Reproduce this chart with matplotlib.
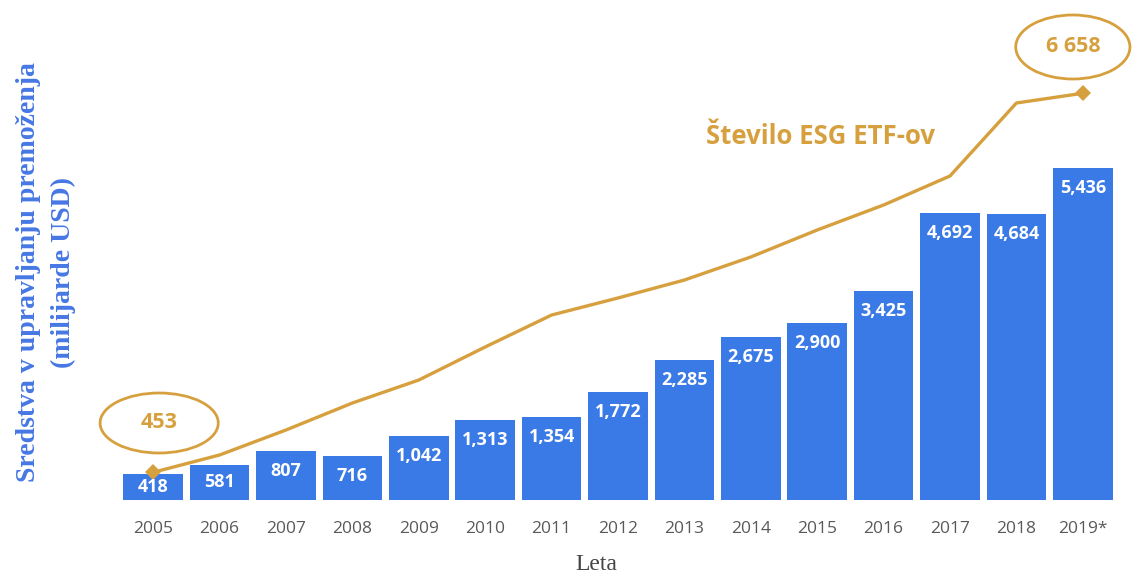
import matplotlib
matplotlib.use("Agg")
import matplotlib.pyplot as plt
from matplotlib.patches import Ellipse

# Assets under management (billion USD) and number of ESG ETFs per year
years = ["2005", "2006", "2007", "2008", "2009", "2010", "2011", "2012",
         "2013", "2014", "2015", "2016", "2017", "2018", "2019*"]
assets = [418, 581, 807, 716, 1042, 1313, 1354, 1772,
          2285, 2675, 2900, 3425, 4692, 4684, 5436]
etf_count = [453, 737, 1146, 1588, 1964, 2505, 3028, 3307,
             3601, 3978, 4420, 4829, 5304, 6499, 6658]

BAR_BLUE = "#3A7AE6"
GOLD = "#D7A03E"

W, H, DPI = 1132, 574, 100
fig = plt.figure(figsize=(W / DPI, H / DPI), dpi=DPI, facecolor="white")

# axes: baseline at y=500px, top at figure top
ax_left, ax_right = 120 / W, 1116 / W
ax_bottom, ax_top = (H - 500) / H, 1.0
ax = fig.add_axes([ax_left, ax_bottom, ax_right - ax_left, ax_top - ax_bottom])

ymax = 8185
ax.set_ylim(0, ymax)
ax.set_xlim(-0.5, len(years) - 0.5)
px = ymax / 500.0  # data units per pixel

x = list(range(len(years)))
ax.bar(x, assets, width=0.9, color=BAR_BLUE, zorder=2)

for xi, v in zip(x, assets):
    ypos = max(v - 20 * px, v / 2)
    ax.text(xi, ypos, f"{v:,}", ha="center", va="center", color="white",
            fontsize=13, fontweight="bold", family="Open Sans", zorder=4)

ax.plot(x, etf_count, color=GOLD, lw=2.4, zorder=3, solid_joinstyle="round",
        marker="D", markevery=[0, len(x) - 1], markersize=8, markeredgewidth=0)

# highlighted endpoint values
ends = [(0.09, (500 - 423) * px, 1.78, 60 * px, etf_count[0]),
        (13.85, (500 - 47) * px, 1.72, 64 * px, etf_count[-1])]
for cx, cy, ew, eh, val in ends:
    ax.add_patch(Ellipse((cx, cy), ew, eh, fill=False, edgecolor=GOLD,
                         lw=2.0, clip_on=False, zorder=5))
    label = f"{val:,}".replace(",", " ")
    ax.text(cx, cy, label, ha="center", va="center", color=GOLD,
            fontsize=15.5, fontweight="bold", family="Open Sans", zorder=6)

ax.text(10.05, (500 - 137) * px, "Število ESG ETF-ov", ha="center", va="center",
        color=GOLD, fontsize=18.5, fontweight="bold", family="Open Sans")

ax.set_xticks(x)
ax.set_xticklabels(years, fontsize=12.5, color="#595959", family="Open Sans")
ax.tick_params(axis="x", length=0, pad=15)
ax.set_yticks([])
for s in ax.spines.values():
    s.set_visible(False)

fig.text(596 / W, 1 - 565 / H, "Leta", ha="center", va="center",
         fontsize=17, color="#444444", family="Liberation Serif")

fig.text(29 / W, 1 - 272 / H, "Sredstva v upravljanju premoženja",
         rotation=90, ha="center", va="center", fontsize=20,
         fontweight="bold", color="#4677E3", family="Liberation Serif")
fig.text(63 / W, 1 - 272 / H, "(milijarde USD)",
         rotation=90, ha="center", va="center", fontsize=20,
         fontweight="bold", color="#4677E3", family="Liberation Serif")

fig.savefig("out.png", dpi=DPI, facecolor="white")
